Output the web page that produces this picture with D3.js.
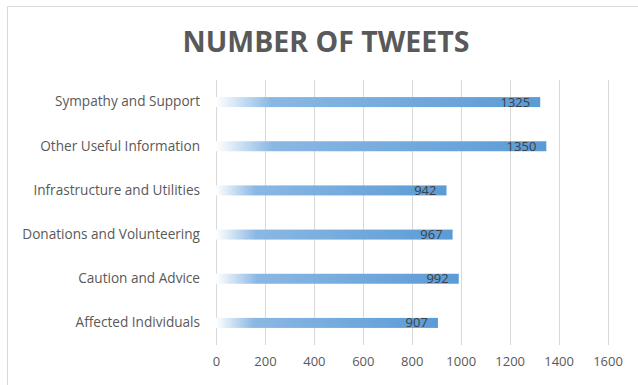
<!DOCTYPE html>
<html>
<head>
<meta charset="utf-8">
<title>Number of Tweets</title>
<script src="https://d3js.org/d3.v7.min.js"></script>
<style>
  body { margin: 0; background: #fff; }
  text { font-family: "Open Sans", "Noto Sans", sans-serif; }
</style>
</head>
<body>
<div id="chart"></div>
<script>
// data (top to bottom)
var categories = ["Sympathy and Support", "Other Useful Information", "Infrastructure and Utilities",
                  "Donations and Volunteering", "Caution and Advice", "Affected Individuals"];
var tweets = [1325, 1350, 942, 967, 992, 907];
var xTicks = [0, 200, 400, 600, 800, 1000, 1200, 1400, 1600];

var width = 638, height = 385;
var plotLeft = 216, plotRight = 607.5, plotTop = 80, plotBottom = 345;

var svg = d3.select("#chart").append("svg")
    .attr("width", width)
    .attr("height", height);

// chart frame (top and left edge visible)
svg.append("path")
    .attr("d", "M7.5,400 V6.5 H640")
    .attr("fill", "none")
    .attr("stroke", "#d9d9d9");

// gradient fill for bars
var grad = svg.append("defs").append("linearGradient")
    .attr("id", "barGrad")
    .attr("x1", "0").attr("x2", "1").attr("y1", "0").attr("y2", "0");
grad.append("stop").attr("offset", "0").attr("stop-color", "#ffffff");
grad.append("stop").attr("offset", "0.17").attr("stop-color", "#8ab8e4");
grad.append("stop").attr("offset", "1").attr("stop-color", "#5b9bd5");

svg.append("text")
    .attr("x", 326).attr("y", 52)
    .attr("text-anchor", "middle")
    .style("font-size", "28.5px")
    .style("font-weight", "bold")
    .style("fill", "#595959")
    .text("NUMBER OF TWEETS");

var x = d3.scaleLinear().domain([0, 1600]).range([plotLeft, plotRight]);
var y = d3.scaleBand().domain(categories).range([plotTop, plotBottom]);

// vertical gridlines
svg.selectAll(".grid")
    .data(xTicks)
    .enter().append("line")
    .attr("x1", function(d) { return Math.round(x(d)) + 0.5; })
    .attr("x2", function(d) { return Math.round(x(d)) + 0.5; })
    .attr("y1", plotTop)
    .attr("y2", plotBottom)
    .attr("stroke", "#d9d9d9")
    .attr("stroke-width", 1);

// x axis labels
var xAxis = svg.append("g")
    .attr("transform", "translate(0," + plotBottom + ")")
    .call(d3.axisBottom(x).tickValues(xTicks).tickFormat(d3.format("d")).tickSize(0).tickPadding(12));
xAxis.select(".domain").remove();
xAxis.selectAll("text")
    .style("font-family", "'Open Sans', sans-serif")
    .style("font-size", "13px")
    .style("fill", "#595959");

// y axis labels
var yAxis = svg.append("g")
    .attr("transform", "translate(" + (plotLeft - 16) + ",0)")
    .call(d3.axisLeft(y).tickSize(0).tickPadding(0));
yAxis.select(".domain").remove();
yAxis.selectAll("text")
    .style("font-family", "'Open Sans', sans-serif")
    .style("font-size", "13.6px")
    .style("fill", "#595959");

// bars
var barH = 10;
svg.selectAll(".bar")
    .data(categories)
    .enter().append("rect")
    .attr("x", x(0))
    .attr("y", function(d) { return y(d) + y.bandwidth() / 2 - barH / 2; })
    .attr("width", function(d, i) { return x(tweets[i]) - x(0); })
    .attr("height", barH)
    .attr("fill", "url(#barGrad)");

// value labels
svg.selectAll(".val")
    .data(categories)
    .enter().append("text")
    .attr("x", function(d, i) { return x(tweets[i]) - 10; })
    .attr("y", function(d) { return y(d) + y.bandwidth() / 2; })
    .attr("dy", "0.35em")
    .attr("text-anchor", "end")
    .style("font-size", "13px")
    .style("fill", "#404040")
    .text(function(d, i) { return tweets[i]; });
</script>
</body>
</html>
